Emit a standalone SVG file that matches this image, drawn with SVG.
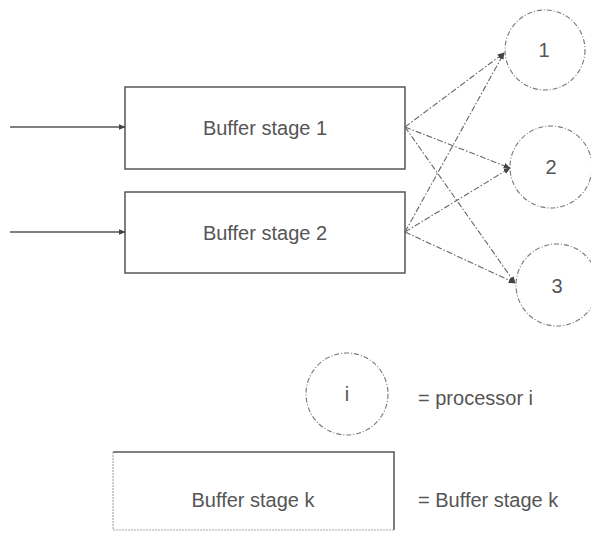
<svg xmlns="http://www.w3.org/2000/svg" width="591" height="533" viewBox="0 0 591 533">
  <defs>
    <marker id="arrow" viewBox="0 0 10 10" refX="9" refY="5" markerWidth="7" markerHeight="7" orient="auto" markerUnits="userSpaceOnUse">
      <path d="M0,1 L10,5 L0,9 Z" fill="#444"/>
    </marker>
    <style>
      .box { fill: #fff; stroke: #555; stroke-width: 1.5; }
      .faint { fill: none; stroke: #aaa; stroke-width: 1.2; stroke-dasharray: 2 1; }
      .proc { fill: #fff; stroke: #777; stroke-width: 1.1; stroke-dasharray: 5 2 1 2; }
      .label { font-family: "Liberation Sans", Arial, sans-serif; font-size: 20px; fill: #555; }
      .in { stroke: #555; stroke-width: 1.4; fill: none; }
      .link { stroke: #666; stroke-width: 1.1; fill: none; stroke-dasharray: 6 2 1.5 2; }
    </style>
  </defs>

  <rect width="591" height="533" fill="#fff"/>

  <!-- buffer stages -->
  <g id="buffer1">
    <rect class="box" x="125" y="87" width="280" height="82"/>
    <text class="label" x="265" y="135" text-anchor="middle">Buffer stage 1</text>
  </g>
  <g id="buffer2">
    <rect class="box" x="125" y="192" width="280" height="81"/>
    <text class="label" x="265" y="240" text-anchor="middle">Buffer stage 2</text>
  </g>

  <!-- processors -->
  <g id="proc1">
    <circle class="proc" cx="545" cy="50" r="40"/>
    <text class="label" x="544" y="57" text-anchor="middle">1</text>
  </g>
  <g id="proc2">
    <circle class="proc" cx="551" cy="167" r="41"/>
    <text class="label" x="551" y="174" text-anchor="middle">2</text>
  </g>
  <g id="proc3">
    <circle class="proc" cx="557" cy="285" r="41"/>
    <text class="label" x="557" y="293" text-anchor="middle">3</text>
  </g>

  <!-- connectors -->
  <g id="connectors">
    <line class="in" x1="10" y1="127" x2="125" y2="127" marker-end="url(#arrow)"/>
    <line class="in" x1="10" y1="232" x2="125" y2="232" marker-end="url(#arrow)"/>
    <line class="link" x1="405" y1="127" x2="504" y2="53" marker-end="url(#arrow)"/>
    <line class="link" x1="405" y1="127" x2="510" y2="168" marker-end="url(#arrow)"/>
    <line class="link" x1="405" y1="127" x2="515" y2="283" marker-end="url(#arrow)"/>
    <line class="link" x1="405" y1="232" x2="504" y2="53" marker-end="url(#arrow)"/>
    <line class="link" x1="405" y1="232" x2="510" y2="168" marker-end="url(#arrow)"/>
    <line class="link" x1="405" y1="232" x2="515" y2="283" marker-end="url(#arrow)"/>
  </g>

  <!-- legend -->
  <g id="legend-processor">
    <circle class="proc" cx="347" cy="394" r="41"/>
    <text class="label" x="347" y="401" text-anchor="middle">i</text>
    <text class="label" x="418" y="405">= processor i</text>
  </g>
  <g id="legend-buffer">
    <rect x="113" y="452" width="281" height="78" fill="#fff"/>
    <path class="box" d="M113,452 H394 V530" fill="none"/>
    <path class="faint" d="M113,452 V530 H394"/>
    <text class="label" x="253" y="507" text-anchor="middle">Buffer stage k</text>
    <text class="label" x="418" y="507">= Buffer stage k</text>
  </g>
</svg>
